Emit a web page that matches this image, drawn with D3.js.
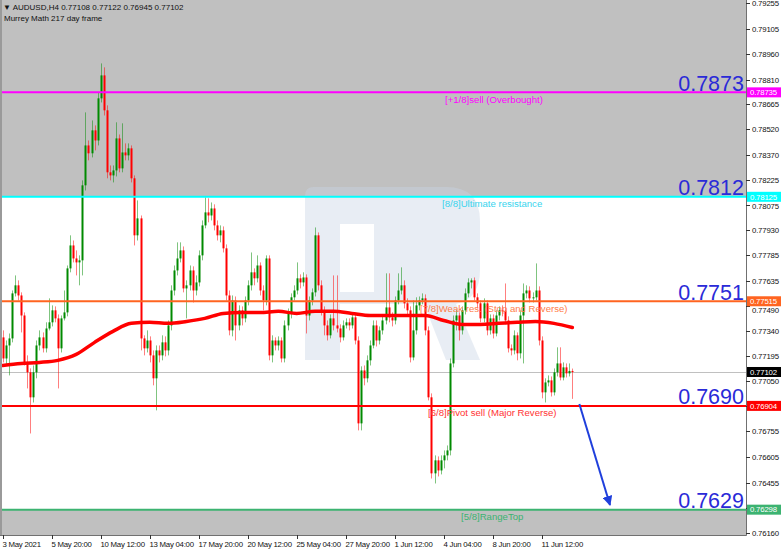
<!DOCTYPE html>
<html><head><meta charset="utf-8">
<script src="https://cdn.jsdelivr.net/npm/d3@7/dist/d3.min.js"></script>
<style>
body{margin:0;background:#fff}
svg{display:block}
text{font-family:"Liberation Sans",Arial,"DejaVu Sans",sans-serif}
</style>
</head><body>
<svg id="c" width="782" height="551"></svg>
<script>
// ---------------- DATA ----------------
const headerLine1 = "\u25BC AUDUSD,H4  0.77108 0.77122 0.76945 0.77102";
const headerLine2 = "Murrey Math 217 day frame";

const firstOpen = 0.77304;
const closes = [
0.77181,0.77257,0.77298,0.77561,0.77608,0.77549,0.77432,0.77158,0.77100,0.76954,
0.77100,0.77257,0.77304,0.77240,0.77356,0.77392,0.77462,0.77415,0.77240,0.77415,
0.77450,0.77707,0.77841,0.77765,0.77742,0.77754,0.78192,0.78425,0.78379,0.78513,
0.78454,0.78700,0.78834,0.78630,0.78268,0.78250,0.78279,0.78466,0.78291,0.78384,
0.78367,0.78408,0.78233,0.77900,0.77999,0.77298,0.77240,0.77286,0.77199,0.77065,
0.77228,0.77199,0.77275,0.77228,0.77374,0.77578,0.77695,0.77765,0.77812,0.77590,
0.77608,0.77695,0.77578,0.77625,0.77783,0.77958,0.78034,0.78016,0.78057,0.77958,
0.77900,0.77929,0.77824,0.77549,0.77345,0.77520,0.77374,0.77462,0.77415,0.77520,
0.77608,0.77684,0.77649,0.77724,0.77578,0.77520,0.77765,0.77199,0.77286,0.77257,
0.77286,0.77181,0.77374,0.77444,0.77538,0.77578,0.77649,0.77625,0.77654,0.77432,
0.77520,0.77567,0.77900,0.77608,0.77462,0.77374,0.77316,0.77415,0.77374,0.77356,
0.77304,0.77374,0.77392,0.77374,0.77421,0.77286,0.76802,0.77111,0.77065,0.77170,
0.77257,0.77374,0.77286,0.77345,0.77403,0.77479,0.77421,0.77403,0.77520,0.77578,
0.77608,0.77503,0.77462,0.77187,0.77345,0.77491,0.77520,0.77532,0.77345,0.76954,
0.76510,0.76586,0.76527,0.76586,0.76615,0.76644,0.77152,0.77403,0.77432,0.77345,
0.77462,0.77561,0.77625,0.77637,0.77538,0.77503,0.77415,0.77503,0.77345,0.77415,
0.77327,0.77432,0.77462,0.77460,0.77403,0.77240,0.77228,0.77316,0.77211,0.77432,
0.77561,0.77578,0.77532,0.77538,0.77578,0.77286,0.76983,0.77041,0.77053,0.76983,
0.77100,0.77152,0.77070,0.77129,0.77094,0.77108,0.77102];
const highs = [
0.77345,0.77286,0.77327,0.77578,0.77666,0.77637,0.77567,0.77450,0.77199,0.77123,
0.77140,0.77286,0.77345,0.77333,0.77392,0.77532,0.77491,0.77485,0.77438,0.77432,
0.77578,0.77724,0.77900,0.77870,0.77812,0.77783,0.78221,0.78618,0.78454,0.78571,
0.78542,0.78735,0.78904,0.78881,0.78659,0.78308,0.78308,0.78560,0.78489,0.78554,
0.78437,0.78437,0.78425,0.78250,0.78104,0.78016,0.77316,0.77345,0.77310,0.77228,
0.77257,0.77257,0.77316,0.77310,0.77403,0.77608,0.77724,0.77859,0.77859,0.77835,
0.77637,0.77724,0.77719,0.77666,0.77812,0.77987,0.78122,0.78116,0.78092,0.78081,
0.77987,0.77958,0.77952,0.77847,0.77578,0.77549,0.77543,0.77491,0.77485,0.77543,
0.77637,0.77800,0.77707,0.77783,0.77742,0.77608,0.77783,0.77783,0.77316,0.77304,
0.77310,0.77304,0.77403,0.77473,0.77561,0.77608,0.77742,0.77672,0.77684,0.77672,
0.77543,0.77590,0.77946,0.77917,0.77637,0.77485,0.77403,0.77438,0.77666,0.77666,
0.77380,0.77403,0.77415,0.77415,0.77450,0.77444,0.77310,0.77135,0.77140,0.77199,
0.77286,0.77403,0.77403,0.77368,0.77427,0.77678,0.77678,0.77450,0.77543,0.77678,
0.77713,0.77637,0.77532,0.77485,0.77520,0.77538,0.77543,0.77561,0.77555,0.77368,
0.76977,0.76615,0.76609,0.76615,0.76644,0.76673,0.77181,0.77432,0.77462,0.77450,
0.77485,0.77590,0.77649,0.77649,0.77654,0.77561,0.77520,0.77532,0.77520,0.77438,
0.77438,0.77462,0.77485,0.77491,0.77619,0.77427,0.77263,0.77345,0.77333,0.77462,
0.77619,0.77608,0.77602,0.77567,0.77736,0.77602,0.77310,0.77065,0.77082,0.77076,
0.77123,0.77246,0.77246,0.77158,0.77152,0.77152,0.77122];
const lows = [
0.77158,0.77140,0.77082,0.77275,0.77543,0.77520,0.77333,0.77140,0.77006,0.76743,
0.76924,0.77065,0.77228,0.77216,0.77216,0.77345,0.77368,0.77392,0.77006,0.77216,
0.77403,0.77427,0.77684,0.77742,0.77666,0.77608,0.77666,0.78162,0.78338,0.78355,
0.78396,0.78425,0.78676,0.78600,0.78233,0.78221,0.78209,0.78244,0.78268,0.78268,
0.78338,0.78338,0.78209,0.77841,0.77870,0.77228,0.77199,0.77216,0.77158,0.77024,
0.76878,0.77158,0.77170,0.77193,0.77199,0.77345,0.77549,0.77666,0.77742,0.77567,
0.77415,0.77578,0.77508,0.77549,0.77602,0.77754,0.77941,0.77976,0.77987,0.77929,
0.77870,0.77859,0.77800,0.77520,0.77316,0.77310,0.77286,0.77345,0.77374,0.77392,
0.77491,0.77578,0.77608,0.77625,0.77549,0.77462,0.77491,0.77170,0.77158,0.77228,
0.77228,0.77158,0.77158,0.77345,0.77415,0.77520,0.77555,0.77590,0.77602,0.77327,
0.77403,0.77491,0.77543,0.77578,0.77432,0.77316,0.77286,0.77298,0.77345,0.77333,
0.77275,0.77286,0.77356,0.77345,0.77356,0.77263,0.76761,0.76761,0.77024,0.77041,
0.77140,0.77240,0.77251,0.77263,0.77321,0.77380,0.77392,0.77368,0.77380,0.77497,
0.77555,0.77473,0.77438,0.77158,0.77170,0.77321,0.77462,0.77497,0.77316,0.76936,
0.76480,0.76451,0.76492,0.76504,0.76539,0.76586,0.76615,0.77129,0.77345,0.77286,
0.77321,0.77438,0.77538,0.77590,0.77520,0.77473,0.77392,0.77392,0.77316,0.77321,
0.77298,0.77310,0.77403,0.77427,0.77380,0.77216,0.77199,0.77205,0.77170,0.77181,
0.77152,0.77532,0.77508,0.77508,0.77520,0.77257,0.76948,0.76924,0.77018,0.76959,
0.76965,0.77076,0.77053,0.77053,0.77070,0.77076,0.76945];

// moving average readings (bar index, value)
const maBars   = [0,6,12,18,24,30,36,42,48,54,60,66,72,78,84,90,96,102,108,114,120,126,132,138,144,150,156,162,168,174,180,186];
const maValues = [0.77140,0.77152,0.77158,0.77170,0.77205,0.77275,0.77339,0.77386,0.77392,0.77386,0.77397,0.77415,0.77444,0.77450,0.77450,0.77456,
                  0.77444,0.77456,0.77456,0.77444,0.77432,0.77432,0.77432,0.77432,0.77403,0.77380,0.77380,0.77386,0.77392,0.77397,0.77386,0.77362];

// tick labels of the price axis (those under a level box are not printed)
const priceTicks = [0.79255,0.79105,0.78960,0.78810,0.78665,0.78520,0.78370,0.78225,0.78075,0.77930,0.77785,
                    0.77635,0.77490,0.77340,0.77195,0.77050,0.76755,0.76605,0.76455,0.76160];
const hiddenPriceTicks = [0.76905,0.76310];
const timeTickBars = [0,16,32,48,64,80,96,112,128,144,160,176];
const timeTickLabels = ["3 May 2021","5 May 20:00","10 May 12:00","13 May 04:00","17 May 20:00","20 May 12:00",
                        "25 May 04:00","27 May 20:00","1 Jun 12:00","4 Jun 04:00","8 Jun 20:00","11 Jun 12:00"];

const levelNames  = ["[+1/8]sell (Overbought)","[8/8]Ultimate resistance","[7/8]Weak res. (Stop and Reverse)","[6/8]Pivot sell (Major Reverse)","[5/8]RangeTop"];
const levelValues = [0.78735,0.78125,0.77515,0.76904,0.76298];
const levelBig    = ["0.7873","0.7812","0.7751","0.7690","0.7629"];
const currentPrice = 0.77102;
const arrowFrom = {bar:188.3, price:0.76915};
const arrowTo   = {bar:198.3, price:0.76325};

// ---------------- STYLE / LAYOUT ----------------
const W = 782, H = 551;
const plotR = 746, plotB = 535;
const levelColors = ["#ff00ff","#00ffff","#ff6420","#ff0000","#3cb371"];
const levelTextColors = ["#ff00ff","#38d4ee","#ff7d4a","#ff3333","#3cb371"];
const levelTextX = [445,442,420,428,461];
const bull = "#008a00", bear = "#ff0000";

const svg = d3.select("#c");
const y = d3.scaleLinear().domain([0.76160,0.79255]).range([533.3,3.3]);
const x = d3.scaleLinear().domain([0,16]).range([2.7,51.7]);

// background zones
svg.append("rect").attr("width",W).attr("height",H).attr("fill","#fff");
svg.append("rect").attr("x",0).attr("y",0).attr("width",plotR).attr("height",y(levelValues[1])).attr("fill","#c0c0c0");
svg.append("rect").attr("x",0).attr("y",y(levelValues[4])).attr("width",plotR).attr("height",plotB-y(levelValues[4])).attr("fill","#c0c0c0");

// watermark (decorative logo)
svg.append("path")
  .attr("d","M305,196 Q305,187 314,187 H446 Q480,187 480,221 V270 Q480,299 456,304 L480,360 H446 L424,304 H340 V360 H305 Z M340,224 H374 V292 H340 Z")
  .attr("fill","rgb(200,212,228)").attr("fill-opacity",0.42).attr("fill-rule","evenodd");

// current price line
svg.append("line").attr("x1",0).attr("x2",plotR).attr("y1",Math.round(y(currentPrice))+0.5).attr("y2",Math.round(y(currentPrice))+0.5)
  .attr("stroke","#c0c0c0").attr("stroke-width",1);

// candles
const bars = closes.map((c,i)=>({i, o: i===0?firstOpen:closes[i-1], c, h:highs[i], l:lows[i]}));
const g = svg.append("g");
g.selectAll("line.w").data(bars).join("line")
  .attr("x1",d=>Math.round(x(d.i))+0.5).attr("x2",d=>Math.round(x(d.i))+0.5)
  .attr("y1",d=>y(d.h)).attr("y2",d=>y(d.l))
  .attr("stroke",d=>d.c>=d.o?bull:bear).attr("stroke-opacity",0.5).attr("stroke-width",1);
g.selectAll("rect.b").data(bars).join("rect")
  .attr("x",d=>Math.round(x(d.i))-0.5).attr("width",2)
  .attr("y",d=>y(Math.max(d.o,d.c)))
  .attr("height",d=>Math.max(1,Math.abs(y(d.o)-y(d.c))))
  .attr("fill",d=>d.c>=d.o?bull:bear);

// moving average
svg.append("path").datum(maBars.map((b,k)=>[b,maValues[k]]))
  .attr("d",d3.line().x(d=>x(d[0])).y(d=>y(d[1])).curve(d3.curveMonotoneX))
  .attr("fill","none").attr("stroke","#ff0000").attr("stroke-width",3.5).attr("stroke-linecap","round");

// Murrey levels
levelValues.forEach((v,k)=>{
  const yy = y(v);
  svg.append("line").attr("x1",0).attr("x2",plotR).attr("y1",yy).attr("y2",yy)
    .attr("stroke",levelColors[k]).attr("stroke-width",2);
  svg.append("text").attr("x",levelTextX[k]).attr("y",yy+10.5).attr("font-size",9.6)
    .attr("fill",levelTextColors[k]).text(levelNames[k]);
  svg.append("text").attr("x",744).attr("y",yy-1.5).attr("text-anchor","end").attr("font-size",21.5)
    .attr("fill","#2a2ad8").text(levelBig[k]);
});

// forecast arrow
const defs = svg.append("defs");
defs.append("marker").attr("id","ah").attr("viewBox","0 0 10 10").attr("refX",9).attr("refY",5)
  .attr("markerWidth",5).attr("markerHeight",5).attr("orient","auto")
  .append("path").attr("d","M0,0 L10,5 L0,10 Z").attr("fill","#1f3fdc");
svg.append("line").attr("x1",x(arrowFrom.bar)).attr("y1",y(arrowFrom.price))
  .attr("x2",x(arrowTo.bar)).attr("y2",y(arrowTo.price))
  .attr("stroke","#1f3fdc").attr("stroke-width",2).attr("marker-end","url(#ah)");

// frame / axes
svg.append("line").attr("x1",1).attr("x2",1).attr("y1",0).attr("y2",plotB).attr("stroke","#9a9a9a").attr("stroke-width",2);
svg.append("line").attr("x1",plotR+0.5).attr("x2",plotR+0.5).attr("y1",0).attr("y2",plotB+0.5).attr("stroke","#707070");
svg.append("line").attr("x1",0).attr("x2",plotR+0.5).attr("y1",plotB+0.5).attr("y2",plotB+0.5).attr("stroke","#707070");

const boxYs = levelValues.concat([currentPrice]).map(v=>y(v));
const ya = svg.append("g");
hiddenPriceTicks.concat(priceTicks).forEach(p=>{
  const yy = Math.round(y(p))+0.5;
  ya.append("line").attr("x1",plotR).attr("x2",plotR+4).attr("y1",yy).attr("y2",yy).attr("stroke","#333");
});
priceTicks.forEach(p=>{
  let yy = Math.round(y(p))+0.5;
  // a label partly under a price box is pushed just clear of it
  boxYs.forEach(by=>{
    const d = yy-by;
    if (Math.abs(d) < 9.5) yy = by + (d>=0 ? 9.5 : -9.5);
  });
  ya.append("text").attr("x",752).attr("y",yy).attr("dy","0.35em").attr("font-size",7.8)
    .attr("letter-spacing","-0.2px").attr("fill","#111").text(p.toFixed(5));
});
const xa = svg.append("g");
timeTickBars.forEach((b,k)=>{
  const xx = Math.round(x(b))+0.5;
  xa.append("line").attr("x1",xx).attr("x2",xx).attr("y1",plotB).attr("y2",plotB+4).attr("stroke","#333");
  xa.append("text").attr("x",xx-1).attr("y",547).attr("font-size",7.8).attr("letter-spacing","-0.25px")
    .attr("fill","#111").text(timeTickLabels[k]);
});

// right side price boxes
function priceBox(v,fill,txt){
  const yy = y(v);
  svg.append("rect").attr("x",747).attr("y",yy-5).attr("width",34).attr("height",10).attr("fill",fill);
  svg.append("text").attr("x",750).attr("y",yy).attr("dy","0.35em").attr("font-size",7.8)
    .attr("letter-spacing","-0.2px").attr("fill","#fff").text(txt);
}
levelValues.forEach((v,k)=>priceBox(v,levelColors[k],v.toFixed(5)));
priceBox(currentPrice,"#000",currentPrice.toFixed(5));

// header
svg.append("text").attr("x",3).attr("y",10).attr("font-size",8).attr("fill","#111").text(headerLine1);
svg.append("text").attr("x",4).attr("y",21).attr("font-size",8).attr("fill","#111").text(headerLine2);
</script>
</body></html>
